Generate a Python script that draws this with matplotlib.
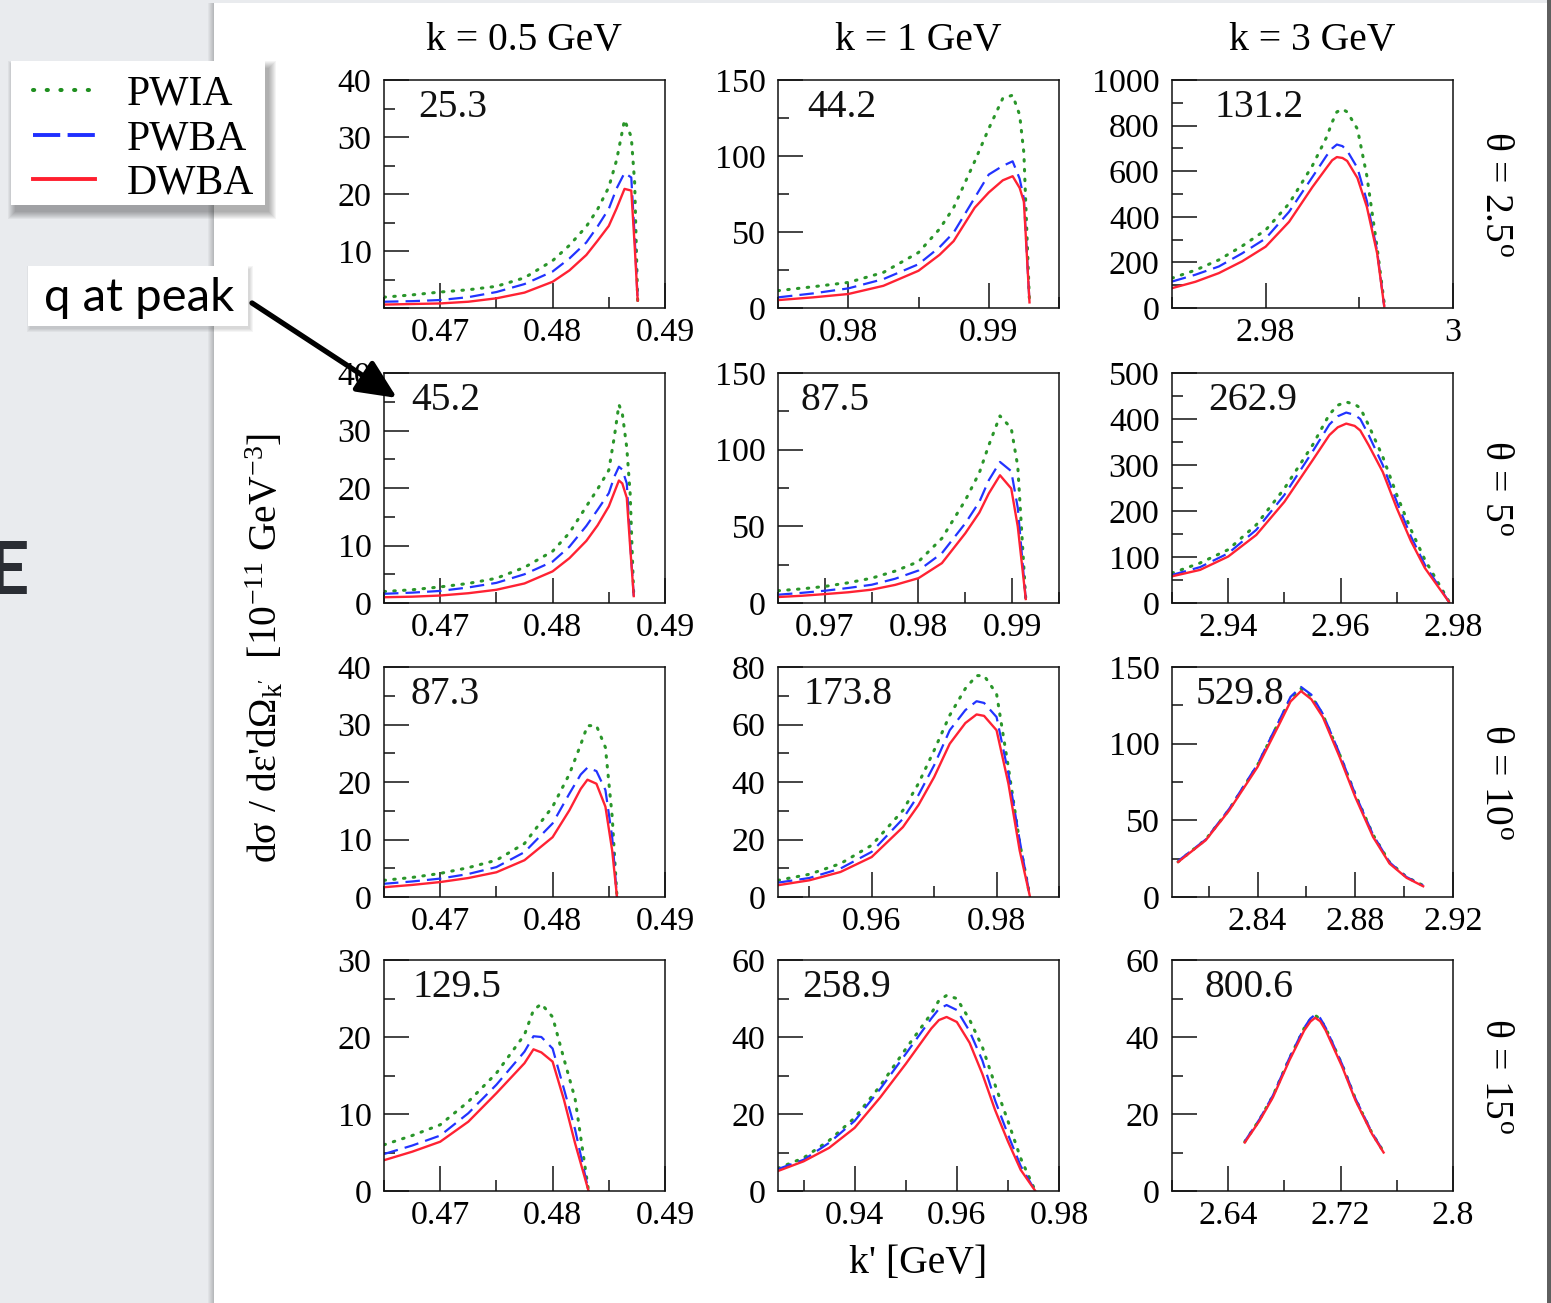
import matplotlib
matplotlib.use('Agg')
import matplotlib.pyplot as plt
from matplotlib.lines import Line2D
from matplotlib.patches import Rectangle, FancyArrowPatch
from matplotlib.ticker import MultipleLocator, FuncFormatter

plt.rcParams['font.family'] = ['Liberation Serif', 'DejaVu Serif']
plt.rcParams['mathtext.fontset'] = 'custom'
plt.rcParams['mathtext.rm'] = 'Liberation Serif'
plt.rcParams['mathtext.it'] = 'Liberation Serif:italic'
plt.rcParams['mathtext.bf'] = 'Liberation Serif:bold'

# ---- values: k' [GeV] and dsigma [1e-11 GeV^-3] ----
COL_TITLES = ['k = 0.5 GeV', 'k = 1 GeV', 'k = 3 GeV']
ROW_ANGLES = ['2.5', '5', '10', '15']
Q_PEAK = [['25.3', '44.2', '131.2'],
          ['45.2', '87.5', '262.9'],
          ['87.3', '173.8', '529.8'],
          ['129.5', '258.9', '800.6']]
SERIES = ['PWIA', 'PWBA', 'DWBA']

# theta = 2.5 deg
KP_11 = [0.465, 0.4675, 0.470, 0.4725, 0.475, 0.4775, 0.480, 0.4815, 0.483, 0.484, 0.485, 0.4857, 0.4864, 0.4870, 0.4873, 0.48757]
PWIA_11 = [1.9, 2.3, 2.8, 3.2, 3.8, 5.3, 8.3, 11.0, 14.3, 17.3, 21.2, 26.0, 33.0, 30.0, 22.0, 1.3]
PWBA_11 = [1.1, 1.2, 1.4, 1.9, 2.8, 4.2, 6.4, 8.7, 11.5, 14.3, 17.4, 21.0, 23.7, 22.9, 12.5, 1.3]
DWBA_11 = [0.6, 0.7, 0.8, 1.1, 1.7, 2.7, 4.6, 6.6, 9.3, 11.8, 14.4, 17.5, 20.9, 20.6, 11.0, 1.3]

KP_12 = [0.975, 0.9775, 0.980, 0.9825, 0.985, 0.9865, 0.9875, 0.989, 0.990, 0.991, 0.9917, 0.9922, 0.9925, 0.9929]
PWIA_12 = [11.4, 14.0, 16.8, 23.4, 36.5, 52.0, 66.0, 96.5, 118.0, 138.0, 140.0, 127.0, 102.0, 3.7]
PWBA_12 = [7.0, 9.6, 12.9, 19.0, 28.8, 40.0, 49.6, 72.5, 87.8, 93.5, 96.5, 85.0, 72.0, 3.7]
DWBA_12 = [5.2, 7.0, 9.2, 14.6, 24.5, 35.0, 44.0, 66.0, 76.0, 84.0, 86.7, 79.0, 70.0, 3.7]

KP_13 = [2.970, 2.9725, 2.975, 2.9775, 2.980, 2.9825, 2.985, 2.9865, 2.9871, 2.9876, 2.9882, 2.9887, 2.9898, 2.9908, 2.9919, 2.99266]
PWIA_13 = [131, 166, 211, 272, 342, 458, 625, 749, 815, 860, 872, 860, 785, 580, 265, 20]
PWBA_13 = [116, 146, 182, 240, 305, 422, 575, 668, 700, 717, 710, 690, 614, 470, 250, 7]
DWBA_13 = [87, 115, 153, 205, 269, 378, 531, 615, 648, 662, 658, 645, 570, 444, 240, 7]

# theta = 5 deg
KP_21 = [0.465, 0.4675, 0.470, 0.4725, 0.475, 0.4775, 0.480, 0.4815, 0.483, 0.484, 0.485, 0.4855, 0.4859, 0.4862, 0.4866, 0.4869, 0.48722]
PWIA_21 = [2.0, 2.3, 2.8, 3.4, 4.3, 6.2, 9.0, 12.2, 16.8, 19.8, 23.1, 29.0, 34.5, 33.0, 27.0, 19.0, 1.2]
PWBA_21 = [1.6, 1.8, 2.1, 2.7, 3.5, 5.0, 7.2, 9.8, 13.4, 16.2, 19.1, 22.0, 23.7, 23.2, 20.8, 10.5, 1.2]
DWBA_21 = [1.0, 1.1, 1.3, 1.7, 2.3, 3.4, 5.5, 7.8, 10.8, 13.5, 16.8, 19.3, 21.3, 20.8, 18.3, 9.8, 1.2]

KP_22 = [0.965, 0.9675, 0.970, 0.9725, 0.975, 0.9775, 0.980, 0.9825, 0.985, 0.9865, 0.9875, 0.9887, 0.9899, 0.9906, 0.99145]
PWIA_22 = [8.0, 9.2, 10.8, 13.2, 16.2, 20.8, 27.0, 42.2, 67.0, 85.0, 102.8, 122.0, 114.0, 89.0, 2.6]
PWBA_22 = [5.4, 6.6, 8.0, 9.8, 11.9, 15.8, 21.2, 32.5, 52.0, 66.0, 80.0, 92.0, 86.0, 62.0, 2.6]
DWBA_22 = [3.9, 4.7, 5.8, 7.0, 8.7, 11.8, 16.2, 26.0, 45.5, 59.0, 71.4, 83.3, 74.7, 49.8, 2.6]

KP_23 = [2.930, 2.935, 2.940, 2.945, 2.950, 2.955, 2.958, 2.9595, 2.961, 2.9625, 2.9635, 2.965, 2.9675, 2.970, 2.9725, 2.975, 2.9793]
PWIA_23 = [65, 87, 116, 170, 249, 343, 410, 430, 437, 432, 424, 386, 318, 235, 160, 94, 3]
PWBA_23 = [61, 78, 108, 159, 235, 329, 388, 406, 414, 409, 400, 365, 300, 220, 145, 83, 2]
DWBA_23 = [58, 72, 101, 148, 220, 310, 365, 382, 390, 385, 375, 343, 285, 206, 135, 76, 2]

# theta = 10 deg
KP_31 = [0.465, 0.4675, 0.470, 0.4725, 0.475, 0.4775, 0.480, 0.4815, 0.4825, 0.4831, 0.4839, 0.4847, 0.4853, 0.48573]
PWIA_31 = [2.9, 3.4, 4.1, 5.1, 6.4, 9.3, 15.7, 21.4, 26.5, 29.8, 29.8, 26.0, 14.0, 0.0]
PWBA_31 = [2.3, 2.7, 3.2, 4.0, 5.2, 7.8, 12.8, 18.0, 21.3, 22.5, 21.9, 18.6, 10.4, 0.0]
DWBA_31 = [1.7, 2.1, 2.6, 3.3, 4.3, 6.4, 10.4, 15.1, 18.8, 20.4, 19.7, 15.7, 8.1, 0.0]

KP_32 = [0.945, 0.950, 0.955, 0.960, 0.965, 0.9675, 0.970, 0.9725, 0.975, 0.9768, 0.978, 0.980, 0.9819, 0.9837, 0.98536]
PWIA_32 = [5.8, 7.9, 11.6, 18.0, 30.1, 39.5, 51.0, 63.2, 72.5, 77.0, 77.0, 70.7, 45.0, 19.0, 0.0]
PWBA_32 = [5.0, 6.6, 9.9, 15.7, 27.2, 35.5, 45.8, 58.0, 65.0, 68.1, 67.5, 62.6, 42.9, 19.7, 0.0]
DWBA_32 = [4.1, 5.8, 8.7, 13.9, 24.3, 32.0, 41.7, 53.3, 60.5, 63.5, 63.0, 58.0, 39.4, 16.2, 0.0]

KP_33 = [2.8075, 2.8188, 2.8284, 2.840, 2.849, 2.8535, 2.8578, 2.862, 2.8667, 2.8736, 2.880, 2.8873, 2.8941, 2.901, 2.9078]
PWIA_33 = [23.0, 37.5, 57.0, 86.0, 115.0, 129.5, 136.0, 131.0, 119.0, 93.0, 67.0, 40.5, 22.5, 13.0, 7.5]
PWBA_33 = [23.5, 37.5, 57.5, 86.5, 115.5, 130.5, 137.0, 132.0, 119.5, 93.5, 67.0, 40.5, 22.5, 13.0, 7.5]
DWBA_33 = [22.8, 37.0, 56.5, 84.8, 113.0, 127.5, 134.3, 129.0, 117.4, 91.3, 65.2, 39.1, 21.7, 12.5, 7.0]

# theta = 15 deg
KP_41 = [0.465, 0.4675, 0.470, 0.4725, 0.475, 0.4775, 0.4783, 0.479, 0.480, 0.481, 0.482, 0.4832]
PWIA_41 = [6.0, 7.2, 8.6, 11.6, 15.3, 20.3, 23.5, 24.3, 22.6, 17.2, 12.0, 0.0]
PWBA_41 = [4.8, 5.9, 7.2, 10.1, 13.8, 18.1, 20.1, 20.0, 18.5, 13.3, 8.0, 0.0]
DWBA_41 = [4.0, 5.1, 6.4, 9.0, 12.7, 16.6, 18.4, 18.0, 16.8, 11.9, 6.2, 0.0]

KP_42 = [0.925, 0.930, 0.935, 0.940, 0.945, 0.950, 0.955, 0.9565, 0.958, 0.960, 0.9625, 0.965, 0.9675, 0.970, 0.9725, 0.97537]
PWIA_42 = [5.9, 8.6, 13.1, 19.0, 27.3, 36.9, 46.1, 49.5, 50.8, 50.0, 44.5, 37.4, 27.5, 18.2, 8.5, 0.0]
PWBA_42 = [5.7, 8.1, 12.5, 18.2, 26.5, 35.6, 44.8, 47.3, 48.3, 47.0, 41.5, 33.9, 23.5, 14.7, 6.5, 0.0]
DWBA_42 = [5.2, 7.7, 11.2, 16.4, 24.3, 33.0, 42.2, 44.4, 45.2, 43.9, 38.5, 30.4, 21.0, 12.9, 5.5, 0.0]

KP_43 = [2.6518, 2.6624, 2.6718, 2.6835, 2.6941, 2.6985, 2.7019, 2.7055, 2.7094, 2.7212, 2.7306, 2.7424, 2.7506]
PWIA_43 = [12.8, 18.6, 24.7, 34.4, 42.3, 44.6, 45.6, 44.7, 42.3, 32.7, 23.9, 15.0, 10.2]
PWBA_43 = [12.9, 18.7, 24.8, 34.5, 42.4, 44.8, 45.8, 44.9, 42.4, 32.8, 24.0, 15.1, 10.2]
DWBA_43 = [12.6, 18.3, 24.3, 33.9, 41.7, 44.0, 45.0, 44.1, 41.7, 32.2, 23.5, 14.8, 10.0]

PANELS = [
    [(KP_11, PWIA_11, PWBA_11, DWBA_11), (KP_12, PWIA_12, PWBA_12, DWBA_12), (KP_13, PWIA_13, PWBA_13, DWBA_13)],
    [(KP_21, PWIA_21, PWBA_21, DWBA_21), (KP_22, PWIA_22, PWBA_22, DWBA_22), (KP_23, PWIA_23, PWBA_23, DWBA_23)],
    [(KP_31, PWIA_31, PWBA_31, DWBA_31), (KP_32, PWIA_32, PWBA_32, DWBA_32), (KP_33, PWIA_33, PWBA_33, DWBA_33)],
    [(KP_41, PWIA_41, PWBA_41, DWBA_41), (KP_42, PWIA_42, PWBA_42, DWBA_42), (KP_43, PWIA_43, PWBA_43, DWBA_43)],
]

# ---- axes ranges and tick steps (major, minor) ----
XLIMS = [[(0.465, 0.49), (0.975, 0.995), (2.97, 3.0)],
         [(0.465, 0.49), (0.965, 0.995), (2.93, 2.98)],
         [(0.465, 0.49), (0.945, 0.99), (2.805, 2.92)],
         [(0.465, 0.49), (0.925, 0.98), (2.60, 2.80)]]
XSTEPS = [[(0.01, 0.005), (0.01, 0.005), (0.02, 0.01)],
          [(0.01, 0.005), (0.01, 0.005), (0.02, 0.01)],
          [(0.01, 0.005), (0.02, 0.01), (0.04, 0.02)],
          [(0.01, 0.005), (0.02, 0.01), (0.08, 0.04)]]
YLIMS = [[40, 150, 1000], [40, 150, 500], [40, 80, 150], [30, 60, 60]]
YSTEPS = [[(10, 5), (50, 25), (200, 100)],
          [(10, 5), (50, 25), (100, 50)],
          [(10, 5), (20, 10), (50, 25)],
          [(10, 5), (20, 10), (20, 10)]]
QX = [[0.122, 0.105, 0.15],
      [0.096, 0.08, 0.128],
      [0.096, 0.09, 0.083],
      [0.1, 0.087, 0.116]]

STYLE = {
    'PWIA': dict(color='#2a962a', ls=(0, (0.5, 2.7)), lw=2.2, dash_capstyle='round'),
    'PWBA': dict(color='#2233ff', ls=(0, (6.5, 3.2)), lw=1.6),
    'DWBA': dict(color='#ff2233', ls='-', lw=1.7),
}
LEGEND_STYLE = {
    'PWIA': dict(color='#1f8f1f', ls=(0, (0.3, 3.1)), lw=2.9, dash_capstyle='round'),
    'PWBA': dict(color='#1f2fff', ls=(0, (7.0, 1.9)), lw=2.8),
    'DWBA': dict(color='#ff1f2f', ls='-', lw=2.8),
}

W, H = 1551, 1303
FS = 24.5       # tick labels
FS_TXT = 28.5   # titles, panel numbers, axis labels


def fx(px):
    return px / W


def fy(py):
    return 1 - py / H


def tick_fmt(v, pos):
    return f'{round(v, 4):g}'


fig = plt.figure(figsize=(W / 100, H / 100), dpi=100)
fig.patch.set_facecolor('#e9ebee')

# slide page behind the chart
for i in range(6):
    fig.add_artist(Rectangle((fx(214 - i - 1), 0), 1 / W, fy(3), transform=fig.transFigure,
                             facecolor='black', edgecolor='none', alpha=0.035 * (6 - i), zorder=0))
fig.add_artist(Rectangle((fx(214), 0), fx(1547) - fx(214), fy(3), transform=fig.transFigure,
                         facecolor='white', edgecolor='none', zorder=0))
fig.add_artist(Rectangle((fx(1547), 0), fx(W) - fx(1547), 1, transform=fig.transFigure,
                         facecolor='#5f5f5f', edgecolor='none', zorder=0))

col_left = [384, 778, 1172]
row_top = [80, 373, 667, 960]
row_h = [228, 230, 230, 231]
ax_w = 281

axes = []
for r in range(4):
    for c in range(3):
        ax = fig.add_axes([fx(col_left[c]), fy(row_top[r] + row_h[r]), ax_w / W, row_h[r] / H])
        kp, pwia, pwba, dwba = PANELS[r][c]
        for name, vals in zip(SERIES, (pwia, pwba, dwba)):
            ax.plot(kp, vals, label=name, **STYLE[name])
        ax.set_xlim(*XLIMS[r][c])
        ax.set_ylim(0, YLIMS[r][c])
        ax.xaxis.set_major_locator(MultipleLocator(XSTEPS[r][c][0]))
        ax.xaxis.set_minor_locator(MultipleLocator(XSTEPS[r][c][1]))
        ax.yaxis.set_major_locator(MultipleLocator(YSTEPS[r][c][0]))
        ax.yaxis.set_minor_locator(MultipleLocator(YSTEPS[r][c][1]))
        ax.xaxis.set_major_formatter(FuncFormatter(tick_fmt))
        if r == 0 and c == 0:
            ax.yaxis.set_major_formatter(FuncFormatter(lambda v, p: '' if abs(v) < 1e-9 else f'{v:g}'))
        else:
            ax.yaxis.set_major_formatter(FuncFormatter(tick_fmt))
        ax.tick_params(which='both', direction='in', top=False, right=False,
                       width=1.1, color='#111111', labelsize=FS)
        ax.tick_params(which='major', length=18)
        ax.tick_params(which='minor', length=8)
        ax.tick_params(axis='x', pad=6.5)
        ax.tick_params(axis='y', pad=9)
        for sp in ax.spines.values():
            sp.set_linewidth(1.1)
            sp.set_color('#111111')
        ax.text(QX[r][c], 0.88, Q_PEAK[r][c], transform=ax.transAxes,
                fontsize=FS_TXT, ha='left', va='center', color='#111111')
        if r == 0:
            ax.text(0.5, 1.0 + 40 / 230, COL_TITLES[c], transform=ax.transAxes,
                    fontsize=FS_TXT, ha='center', va='center')
        if c == 2:
            ax.text(1.15, 0.5, '\u03b8 = ' + ROW_ANGLES[r] + r'$^{\mathrm{o}}$',
                    transform=ax.transAxes, fontsize=FS_TXT, rotation=-90,
                    ha='center', va='center')
        axes.append(ax)

fig.text(fx(266), fy(648), "d\u03c3 / d\u03b5'd\u03a9$_{\\mathrm{k'}}$  [10$^{-11}$ GeV$^{-3}$]",
         rotation=90, fontsize=FS_TXT, ha='center', va='center')
fig.text(fx(918), fy(1264), "k' [GeV]", fontsize=FS_TXT, ha='center', va='center')

# legend box with a soft shadow
for i in range(8):
    fig.add_artist(Rectangle((fx(11 + 4 - i), fy(205 + 7 + i)), (254 + 2 * i) / W, (144 + 2 * i) / H,
                             transform=fig.transFigure, facecolor='black', edgecolor='none',
                             alpha=0.045, zorder=2))
fig.add_artist(Rectangle((fx(11), fy(205)), 254 / W, 144 / H, transform=fig.transFigure,
                         facecolor='white', edgecolor='none', zorder=3))
proxies = [Line2D([], [], **LEGEND_STYLE[name]) for name in SERIES]
leg = fig.legend(proxies, SERIES, loc='upper left', bbox_to_anchor=(fx(33), fy(75)),
                 frameon=False, fontsize=30, handlelength=1.49, handletextpad=0.77,
                 borderpad=0, borderaxespad=0, labelspacing=0.15)
leg.set_zorder(4)

# "q at peak" callout
for i in range(4):
    fig.add_artist(Rectangle((fx(28 + 2 - i), fy(326 + 3 + i)), (220 + 2 * i) / W, (60 + 2 * i) / H,
                             transform=fig.transFigure, facecolor='black', edgecolor='none',
                             alpha=0.04, zorder=2))
fig.add_artist(Rectangle((fx(28), fy(326)), 220 / W, 60 / H, transform=fig.transFigure,
                         facecolor='white', edgecolor='none', zorder=3))
fig.text(fx(44), fy(298), 'q at peak', fontsize=34, family='Lato', ha='left', va='center',
         color='black', zorder=4)
arrow = FancyArrowPatch((fx(252), fy(303)), (fx(397), fy(398)), transform=fig.transFigure,
                        arrowstyle='-|>,head_length=1.2,head_width=0.55', mutation_scale=20,
                        lw=3.8, color='black', shrinkA=0, shrinkB=0, zorder=6)
fig.add_artist(arrow)

# cut-off slide title letter at the left edge
fig.text(fx(-13), fy(573), 'E', fontsize=52, family='Lato', fontweight='bold',
         color='#2a2d33', ha='left', va='center')

fig.savefig('out.png', dpi=100, facecolor=fig.get_facecolor())
